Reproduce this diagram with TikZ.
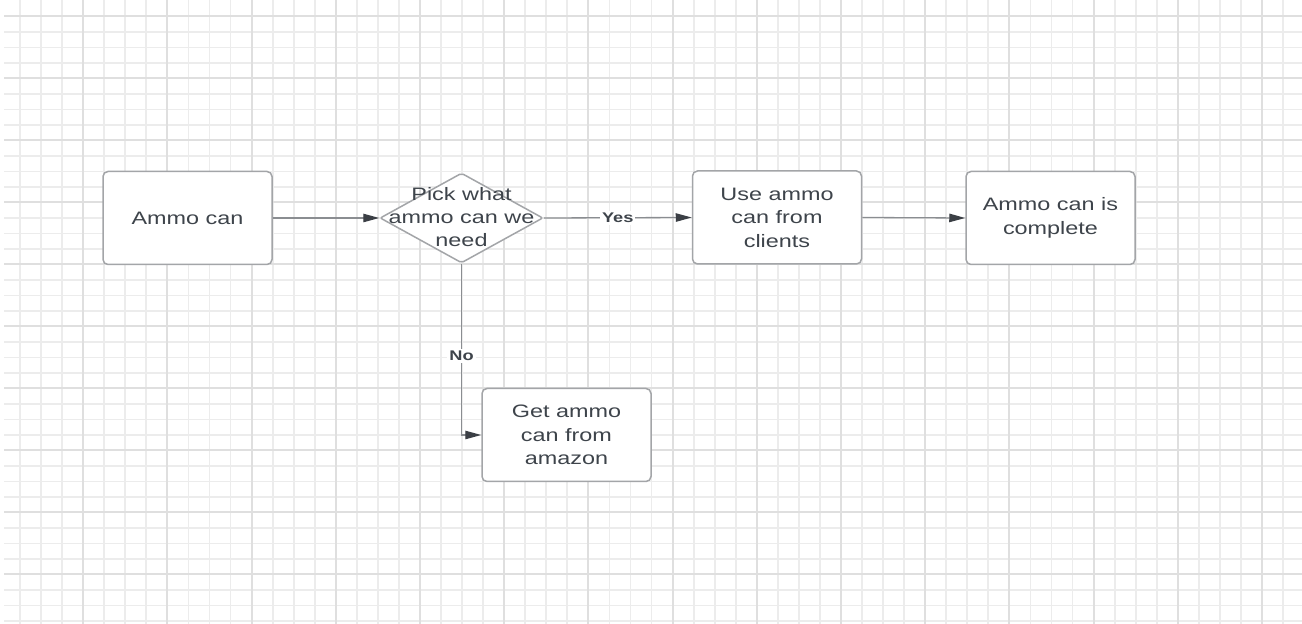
\documentclass[tikz,border=0pt]{standalone}
\usepackage{fontspec}
\newfontfamily\lucid{Liberation Sans}[FakeStretch=1.3]
\usetikzlibrary{shapes.geometric,arrows.meta}

\definecolor{gridminor}{HTML}{ECECEC}
\definecolor{gridmajor}{HTML}{DFDFDF}
\definecolor{boxline}{HTML}{A3A5A8}
\definecolor{wireline}{HTML}{8A8D91}
\definecolor{tipfill}{HTML}{3B3F45}
\definecolor{inkgray}{HTML}{3E444B}

\tikzset{
  minorline/.style={gridminor, line width=0.9pt},
  majorline/.style={gridmajor, line width=1pt},
  stepbox/.style={draw=boxline, line width=0.75pt, rounded corners=2.5pt, fill=white,
    minimum width=84.5pt, minimum height=46.5pt, inner sep=0pt,
    align=center, text=inkgray, font=\lucid\fontsize{9}{11.75}\selectfont},
  decision/.style={diamond, draw=boxline, line width=0.75pt, rounded corners=1pt,
    fill=white, minimum width=81.5pt, minimum height=45pt, inner sep=0pt},
  wire/.style={wireline, line width=0.65pt,
    -{Triangle[length=8pt,width=4.2pt,fill=tipfill,color=tipfill]}},
  answer/.style={fill=white, inner sep=1pt, text=inkgray,
    font=\lucid\fontsize{7}{8.5}\selectfont\bfseries}
}

\begin{document}
\begin{tikzpicture}[x=0.5pt, y=-0.5pt]
  \useasboundingbox[fill=white] (0,0) rectangle (1302,624);
  \foreach \k in {0,...,39}
    \draw[minorline] (4,{16.5+15.5*\k}) -- (1302,{16.5+15.5*\k});
  \foreach \k in {0,...,60}
    \draw[minorline] ({20+21.05*\k},0) -- ({20+21.05*\k},624);
  \foreach \k in {0,4,...,36}
    \draw[majorline] (4,{16.5+15.5*\k}) -- (1302,{16.5+15.5*\k});
  \foreach \k in {3,7,...,59}
    \draw[majorline] ({20+21.05*\k},0) -- ({20+21.05*\k},624);

  \node[stepbox] (ammo) at (187.5,218) {Ammo can};
  \node[decision] (pick) at (461.5,218) {};
  \node[align=center, text=inkgray, font=\lucid\fontsize{9}{11.5}\selectfont]
    (picktext) at (461.5,217) {Pick what\\ammo can we\\need};
  \node[stepbox] (clients) at (777,217.5) {Use ammo\\can from\\clients};
  \node[stepbox] (done) at (1050.5,218) {Ammo can is\\complete};
  \node[stepbox] (amazon) at (566.5,435) {Get ammo\\can from\\amazon};

  \draw[wire] (ammo.east) -- (pick.west);
  \draw[wire] (pick.east) -- (clients.west) node[answer, midway] {Yes};
  \draw[wire] (clients.east) -- (done.west);
  \draw[wire] (pick.south) |- (amazon.west) node[answer, pos=0.27] {No};
\end{tikzpicture}
\end{document}
